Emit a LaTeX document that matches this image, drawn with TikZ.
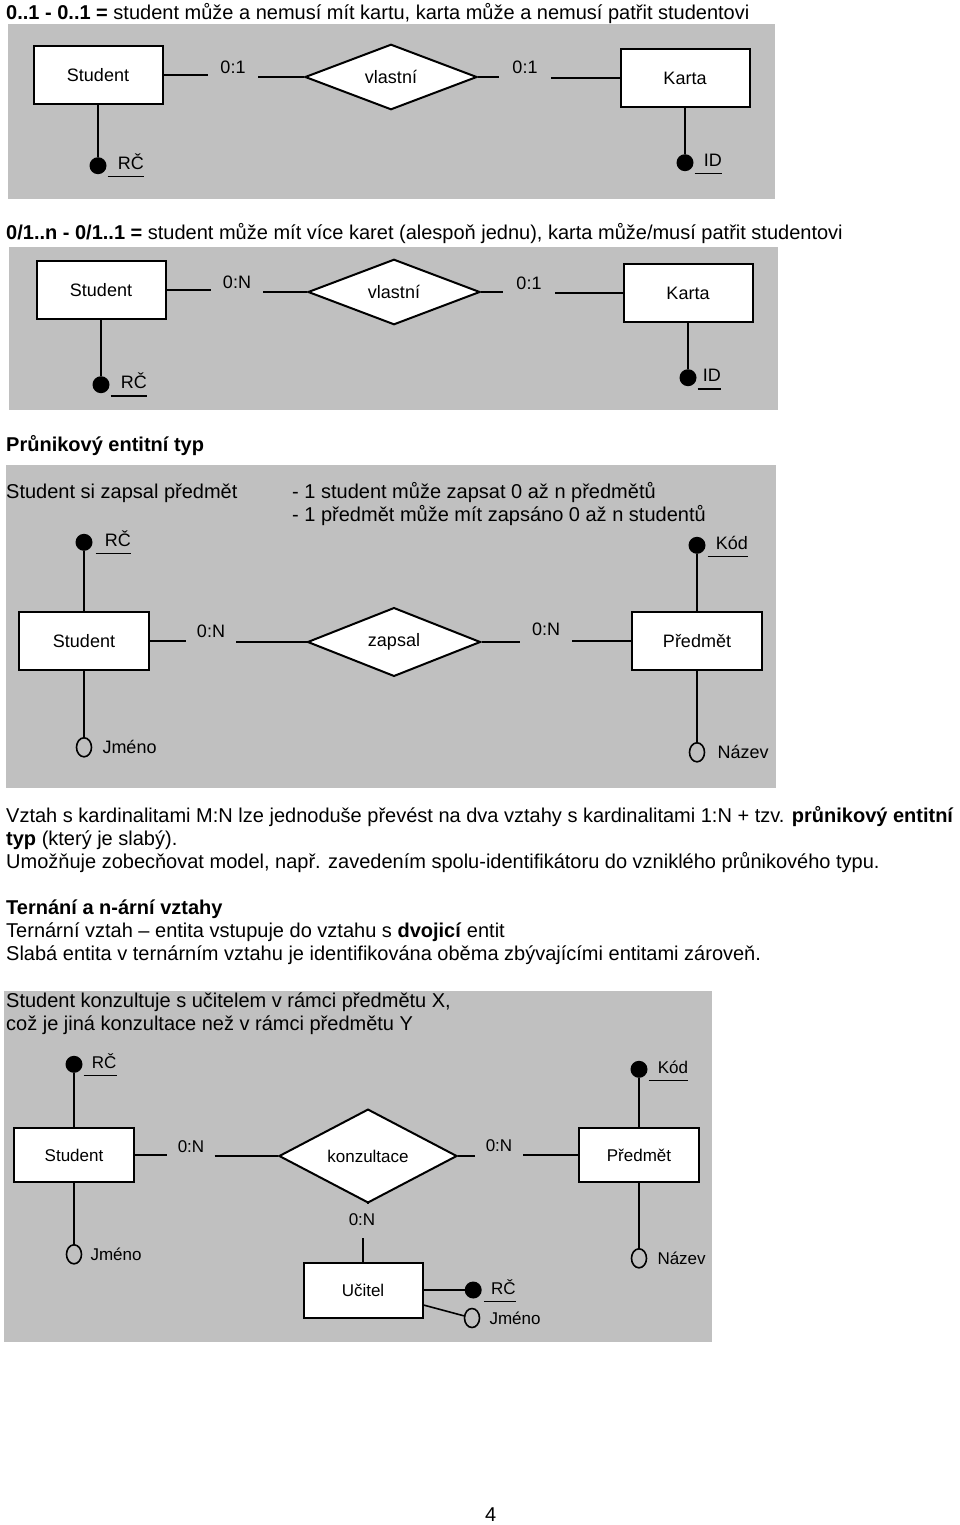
\documentclass[tikz,border=0pt]{standalone}
\usepackage{fontspec}
\setmainfont{Liberation Sans}
\usetikzlibrary{shapes.geometric, positioning}
\definecolor{panelgray}{RGB}{192,192,192}
\tikzset{
    panel/.style={fill=panelgray},
    entity/.style={rectangle, draw=black, fill=white, line width=2pt, minimum width=129pt, minimum height=58pt, inner sep=0pt},
    relation/.style={diamond, draw=black, fill=white, line width=2pt, minimum width=172pt, minimum height=58pt, inner sep=0pt},
    card/.style={inner sep=0pt, minimum width=50pt},
    conn/.style={line width=2.5pt},
    attrline/.style={line width=1.6pt},
    keyattr/.style={circle, fill=black, minimum size=17pt, inner sep=0pt},
    attr/.style={ellipse, draw=black, line width=1.6pt, minimum width=15pt, minimum height=19pt, inner sep=0pt},
    keyname/.style={inner xsep=0pt, inner ysep=2pt, text height=13pt, text depth=5pt,
        append after command={(\tikzlastnode.south west) edge[line width=1.2pt] (\tikzlastnode.south east)}},
    attrname/.style={inner sep=0pt},
    bodytext/.style={anchor=base west, inner sep=0pt, font=\fontsize{20}{24}\selectfont},
}

\begin{document}
\begin{tikzpicture}[x=1pt, y=-1pt, every node/.style={font=\fontsize{18}{21}\selectfont}]
  \fill[white] (0,0) rectangle (960,1525);
  \useasboundingbox (0,0) rectangle (960,1525);

  % 0..1 - 0..1
  \node[bodytext] (t1) at (6,19.5) {\textbf{0..1 - 0..1 =} student může a nemusí mít kartu, karta může a nemusí patřit studentovi};
  \fill[panel] (8,24) rectangle (775,199);
  \node[entity]   (stud1)  at (98,75)  {Student};
  \node[relation] (vl1)    at (391,77) {vlastní};
  \node[entity]   (karta1) at (685,78) {Karta};
  \node[card]     (k11)    at (233,67) {0:1};
  \node[card, minimum width=52pt] (k12) at (525,67) {0:1};
  \draw[conn] (stud1.east) -- (stud1.east -| k11.west);
  \draw[conn] (k11.east |- vl1.west) -- (vl1.west);
  \draw[conn] (vl1.east) -- (vl1.east -| k12.west);
  \draw[conn] (k12.east |- karta1.west) -- (karta1.west);
  \node[keyattr] (rc1) [below=52pt of stud1] {};
  \node[keyattr] (id1) [below=46pt of karta1] {};
  \node[keyname, right=1pt of rc1] (rcn1) {\hspace{10pt}RČ};
  \node[keyname, right=1pt of id1] (idn1) {\hspace{9pt}ID};
  \draw[attrline] (stud1) -- (rc1);
  \draw[attrline] (karta1) -- (id1);

  % 0/1..n - 0/1..1
  \node[bodytext] (t2) at (6,239.5) {\textbf{0/1..n - 0/1..1 =} student může mít více karet (alespoň jednu), karta může/musí patřit studentovi};
  \fill[panel] (9,247) rectangle (778,410);
  \node[entity]   (stud2)  at (101,290) {Student};
  \node[relation] (vl2)    at (394,292) {vlastní};
  \node[entity]   (karta2) at (688,293) {Karta};
  \node[card, minimum width=52pt] (k21) at (237,282) {0:N};
  \node[card, minimum width=52pt] (k22) at (529,283) {0:1};
  \draw[conn] (stud2.east) -- (stud2.east -| k21.west);
  \draw[conn] (k21.east |- vl2.west) -- (vl2.west);
  \draw[conn] (vl2.east) -- (vl2.east -| k22.west);
  \draw[conn] (k22.east |- karta2.west) -- (karta2.west);
  \node[keyattr] (rc2) [below=56pt of stud2] {};
  \node[keyattr] (id2) [below=46pt of karta2] {};
  \node[keyname, right=1pt of rc2] (rcn2) {\hspace{10pt}RČ};
  \node[keyname, right=1pt of id2] (idn2) {\hspace{5pt}ID};
  \draw[attrline] (stud2) -- (rc2);
  \draw[attrline] (karta2) -- (id2);

  % pruunikovy entitni typ
  \node[bodytext] (t3) at (6,451.5) {\textbf{Průnikový entitní typ}};
  \fill[panel] (6,465) rectangle (776,788);
  \node[bodytext] (t4) at (6,498.5) {Student si zapsal předmět};
  \node[bodytext] (t5) at (292,498.5) {- 1 student může zapsat 0 až n předmětů};
  \node[bodytext] (t6) at (292,521.5) {- 1 předmět může mít zapsáno 0 až n studentů};
  \node[entity, minimum width=130pt]   (stud3) at (84,641)  {Student};
  \node[relation, minimum width=173pt, minimum height=59pt] (zap3) at (394,642) {zapsal};
  \node[entity, minimum width=130pt]   (pred3) at (697,641) {Předmět};
  \node[card]                     (k31) at (211,631) {0:N};
  \node[card, minimum width=52pt] (k32) at (546,629) {0:N};
  \draw[conn] (stud3.east) -- (stud3.east -| k31.west);
  \draw[conn] (k31.east |- zap3.west) -- (zap3.west);
  \draw[conn] (zap3.east) -- (zap3.east -| k32.west);
  \draw[conn] (k32.east |- pred3.west) -- (pred3.west);
  \node[keyattr] (rc3)  [above=60pt of stud3] {};
  \node[keyattr] (kod3) [above=57pt of pred3] {};
  \node[attr]    (jm3)  [below=66pt of stud3] {};
  \node[attr]    (naz3) [below=71pt of pred3] {};
  \node[keyname, right=3pt of rc3]  (rcn3)  {\hspace{9pt}RČ};
  \node[keyname, right=2pt of kod3] (kodn3) {\hspace{8pt}Kód};
  \node[attrname, right=10pt of jm3]  (jmn3)  {Jméno};
  \node[attrname, right=12pt of naz3] (nazn3) {Název};
  \draw[attrline] (stud3) -- (rc3);
  \draw[attrline] (pred3) -- (kod3);
  \draw[attrline] (stud3) -- (jm3);
  \draw[attrline] (pred3) -- (naz3);

  % text
  \node[bodytext] (t7) at (6,822.5) {Vztah s kardinalitami M:N lze jednoduše převést na dva vztahy s kardinalitami 1:N + tzv. \textbf{průnikový entitní}};
  \node[bodytext] (t8) at (6,845.5) {\textbf{typ} (který je slabý).};
  \node[bodytext] (t9) at (6,868.5) {Umožňuje zobecňovat model, např. zavedením spolu-identifikátoru do vzniklého průnikového typu.};
  \node[bodytext] (t10) at (6,914.5) {\textbf{Ternání a n-ární vztahy}};
  \node[bodytext] (t11) at (6,937.5) {Ternární vztah – entita vstupuje do vztahu s \textbf{dvojicí} entit};
  \node[bodytext] (t12) at (6,960.5) {Slabá entita v ternárním vztahu je identifikována oběma zbývajícími entitami zároveň.};

  % ternarni vztah
  \fill[panel] (4,991) rectangle (712,1342);
  \node[bodytext] (t13) at (6,1007.5) {Student konzultuje s učitelem v rámci předmětu X,};
  \node[bodytext] (t14) at (6,1030.5) {což je jiná konzultace než v rámci předmětu Y};
  \begin{scope}[every node/.append style={font=\fontsize{17}{20}\selectfont}]
    \node[entity, minimum width=120pt, minimum height=54pt] (stud4) at (74,1155)  {Student};
    \node[relation, minimum width=178pt, minimum height=54pt] (kon4) at (368,1156) {konzultace};
    \node[entity, minimum width=120pt, minimum height=54pt] (pred4) at (639,1155) {Předmět};
    \node[entity, minimum width=119pt, minimum height=55pt] (uc4)   at (363,1290) {Učitel};
    \node[card, minimum width=47pt] (k41) at (191,1147) {0:N};
    \node[card, minimum width=48pt] (k42) at (499,1146) {0:N};
    \node[card, minimum width=0pt, minimum height=36pt] (k43) at (362,1220) {0:N};
    \draw[conn] (stud4.east) -- (stud4.east -| k41.west);
    \draw[conn] (k41.east |- kon4.west) -- (kon4.west);
    \draw[conn] (kon4.east) -- (kon4.east -| k42.west);
    \draw[conn] (k42.east |- pred4.west) -- (pred4.west);
    \draw[conn] (kon4.south) -- (kon4.south |- k43.north);
    \draw[conn] (uc4.north |- k43.south) -- (uc4.north);
    \node[keyattr] (rc4)  [above=54pt of stud4] {};
    \node[keyattr] (kod4) [above=49pt of pred4] {};
    \node[attr]    (jm4)  [below=61pt of stud4] {};
    \node[attr]    (naz4) [below=65pt of pred4] {};
    \node[keyattr] (rc5)  [right=41pt of uc4] {};
    \node[attr]    (jm5)  at (472,1318) {};
    \node[keyname, right=1pt of rc4]  (rcn4)  {\hspace{8pt}RČ};
    \node[keyname, right=1pt of kod4] (kodn4) {\hspace{9pt}Kód};
    \node[attrname, right=8pt of jm4]   (jmn4)  {Jméno};
    \node[attrname, right=10pt of naz4] (nazn4) {Název};
    \node[keyname, right=2pt of rc5]  (rcn5)  {\hspace{7pt}RČ};
    \node[attrname, right=9pt of jm5]   (jmn5)  {Jméno};
    \draw[attrline] (stud4) -- (rc4);
    \draw[attrline] (pred4) -- (kod4);
    \draw[attrline] (stud4) -- (jm4);
    \draw[attrline] (pred4) -- (naz4);
    \draw[conn] (uc4) -- (rc5);
    \draw[attrline] ([yshift=-15pt]uc4.east) -- (jm5);
  \end{scope}

  \node[bodytext] (pg) at (485,1521) {4};
\end{tikzpicture}
\end{document}
